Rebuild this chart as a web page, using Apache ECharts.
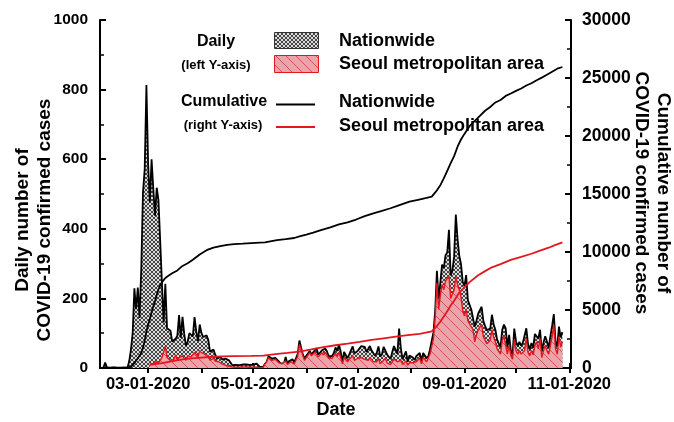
<!DOCTYPE html>
<html>
<head>
<meta charset="utf-8">
<script src="https://cdn.jsdelivr.net/npm/echarts@6/dist/echarts.min.js"></script>
<style>
  html, body { margin: 0; padding: 0; background: #fff; }
  #chart { width: 674px; height: 422px; }
</style>
</head>
<body>
<div id="chart"></div>
<script>
// ---- Axis span (daily categories) ----
const axisStart = '2020-02-02';
const axisEnd = '2020-11-02';
const tickLabelMonths = ['03', '05', '07', '09', '11'];

// ---- Daily confirmed cases, nationwide (from 2020-02-02) ----
const nationDailyStart = '2020-02-02';
const nationFeb = [0, 0, 1, 16, 2, 0, 0, 2, 2, 1, 0, 0, 0, 0, 1, 1, 1, 20, 53, 100, 229, 169, 231, 144, 284, 505, 571, 813];
const nationMar = [586, 476, 600, 516, 438, 518, 483, 367, 248, 131, 242, 114, 110, 107, 76, 74, 84, 93, 152, 87, 147, 98, 64, 76, 100, 104, 91, 146, 105, 78, 125];
const nationApr = [101, 89, 86, 94, 81, 47, 47, 53, 39, 27, 30, 32, 25, 27, 27, 22, 22, 18, 8, 13, 9, 11, 8, 6, 10, 10, 10, 14, 9, 4];
const nationMay = [9, 6, 13, 8, 3, 2, 4, 12, 18, 34, 35, 27, 26, 29, 27, 19, 13, 15, 13, 32, 12, 20, 23, 25, 16, 19, 40, 79, 58, 39, 27];
const nationJun = [35, 38, 49, 39, 39, 51, 57, 38, 38, 50, 45, 56, 48, 34, 37, 34, 43, 59, 49, 67, 48, 17, 46, 51, 28, 39, 51, 62, 42, 43];
const nationJul = [50, 54, 63, 63, 61, 46, 44, 63, 50, 45, 35, 44, 62, 33, 39, 61, 60, 39, 34, 26, 45, 63, 59, 41, 113, 58, 25, 28, 48, 18, 36];
const nationAug = [31, 30, 23, 34, 33, 43, 20, 43, 36, 28, 34, 54, 56, 103, 166, 279, 197, 246, 297, 288, 324, 332, 397, 266, 280, 320, 441, 371, 323, 299, 248];
const nationSep = [235, 267, 195, 198, 168, 167, 119, 136, 156, 155, 176, 136, 121, 109, 106, 113, 153, 126, 110, 82, 70, 61, 110, 125, 114, 61, 95, 50, 38, 113];
const nationOct = [77, 63, 75, 64, 73, 75, 114, 69, 54, 72, 58, 98, 102, 84, 110, 47, 73, 91, 76, 58, 91, 121, 155, 77, 61, 119, 88, 103];

// ---- Daily confirmed cases, Seoul metropolitan area (from 2020-03-02) ----
const seoulDailyStart = '2020-03-02';
const seoulMar = [12, 15, 10, 18, 20, 15, 18, 30, 45, 63, 30, 28, 22, 20, 25, 38, 22, 30, 25, 35, 28, 22, 35, 40, 32, 38, 45, 40, 32, 50];
const seoulApr = [44, 47, 40, 45, 35, 22, 25, 28, 20, 15, 18, 16, 12, 10, 8, 6, 5, 4, 3, 4, 2, 3, 2, 2, 3, 2, 3, 4, 2, 1];
const seoulMay = [2, 1, 2, 2, 1, 1, 2, 12, 18, 30, 32, 22, 20, 25, 22, 15, 10, 12, 10, 20, 10, 15, 18, 20, 12, 15, 33, 68, 52, 35, 22];
const seoulJun = [30, 34, 44, 35, 33, 45, 50, 32, 35, 44, 38, 45, 38, 28, 30, 28, 32, 42, 33, 45, 30, 12, 30, 32, 18, 25, 30, 35, 22, 25];
const seoulJul = [28, 25, 30, 35, 25, 20, 22, 30, 25, 18, 15, 18, 28, 12, 15, 22, 28, 15, 12, 10, 18, 25, 22, 18, 20, 22, 10, 12, 20, 8, 15];
const seoulAug = [12, 15, 10, 18, 20, 28, 12, 30, 25, 18, 22, 40, 42, 85, 146, 245, 168, 210, 240, 225, 250, 245, 265, 200, 205, 225, 262, 240, 225, 205, 165];
const seoulSep = [150, 170, 135, 130, 118, 110, 75, 95, 110, 105, 125, 90, 85, 70, 72, 80, 110, 88, 75, 55, 50, 40, 80, 90, 85, 40, 65, 35, 25, 80];
const seoulOct = [50, 40, 50, 40, 45, 50, 85, 45, 35, 50, 38, 65, 75, 55, 85, 30, 50, 65, 50, 40, 65, 90, 124, 55, 40, 90, 60, 75];

// ---- Cumulative confirmed cases (right axis) ----
const nationCumDates = ['2020-02-02', '2020-02-09', '2020-02-16', '2020-02-18', '2020-02-19', '2020-02-20', '2020-02-21', '2020-02-22', '2020-02-23', '2020-02-24', '2020-02-25', '2020-02-26', '2020-02-27', '2020-02-28', '2020-02-29',
  '2020-03-01', '2020-03-02', '2020-03-03', '2020-03-04', '2020-03-05', '2020-03-06', '2020-03-07', '2020-03-08', '2020-03-09', '2020-03-10', '2020-03-11', '2020-03-13', '2020-03-15', '2020-03-18', '2020-03-21', '2020-03-24', '2020-03-27', '2020-03-31',
  '2020-04-04', '2020-04-08', '2020-04-12', '2020-04-16', '2020-04-20', '2020-04-25', '2020-04-30', '2020-05-05', '2020-05-08', '2020-05-11', '2020-05-15', '2020-05-20', '2020-05-25', '2020-05-28',
  '2020-06-01', '2020-06-05', '2020-06-10', '2020-06-15', '2020-06-20', '2020-06-25', '2020-06-30', '2020-07-05', '2020-07-10', '2020-07-15', '2020-07-20', '2020-07-24', '2020-07-25', '2020-07-31',
  '2020-08-05', '2020-08-10', '2020-08-13', '2020-08-14', '2020-08-16', '2020-08-18', '2020-08-20', '2020-08-22', '2020-08-24', '2020-08-26', '2020-08-28', '2020-08-30',
  '2020-09-01', '2020-09-04', '2020-09-07', '2020-09-10', '2020-09-13', '2020-09-16', '2020-09-19', '2020-09-22', '2020-09-25', '2020-09-28',
  '2020-10-01', '2020-10-04', '2020-10-07', '2020-10-10', '2020-10-13', '2020-10-16', '2020-10-19', '2020-10-22', '2020-10-25', '2020-10-28'];
const nationCum = [15, 25, 29, 31, 51, 104, 204, 433, 602, 833, 977, 1261, 1766, 2337, 3150,
  3736, 4212, 4812, 5328, 5766, 6284, 6767, 7134, 7382, 7513, 7755, 7979, 8162, 8413, 8799, 9037, 9332, 9786,
  10156, 10384, 10512, 10613, 10674, 10718, 10765, 10804, 10822, 10909, 11018, 11110, 11206, 11344,
  11503, 11668, 11902, 12121, 12373, 12563, 12800, 13091, 13338, 13551, 13771, 13979, 14092, 14336,
  14499, 14660, 14770, 14873, 15318, 15761, 16346, 17002, 17665, 18265, 19077, 19699,
  20182, 20842, 21296, 21743, 22176, 22504, 22893, 23106, 23455, 23661,
  23889, 24091, 24353, 24548, 24805, 25035, 25275, 25543, 25800, 25950];

const seoulCumDates = ['2020-03-02', '2020-03-09', '2020-03-16', '2020-03-23', '2020-03-30', '2020-04-06', '2020-04-13', '2020-04-20', '2020-04-30',
  '2020-05-07', '2020-05-14', '2020-05-21', '2020-05-28', '2020-06-04', '2020-06-11', '2020-06-18', '2020-06-25', '2020-07-02', '2020-07-09', '2020-07-16', '2020-07-23', '2020-07-30',
  '2020-08-06', '2020-08-13', '2020-08-14', '2020-08-16', '2020-08-18', '2020-08-20', '2020-08-22', '2020-08-24', '2020-08-26', '2020-08-29',
  '2020-09-01', '2020-09-04', '2020-09-09', '2020-09-13', '2020-09-17', '2020-09-22', '2020-09-28', '2020-10-04', '2020-10-10', '2020-10-15', '2020-10-20', '2020-10-24', '2020-10-28'];
const seoulCum = [280, 420, 620, 780, 880, 950, 1000, 1020, 1040,
  1060, 1200, 1300, 1420, 1600, 1800, 1960, 2100, 2250, 2420, 2560, 2700, 2830,
  2950, 3150, 3230, 3620, 4000, 4450, 4900, 5380, 5800, 6500,
  6950, 7400, 8000, 8350, 8680, 8950, 9320, 9580, 9850, 10120, 10370, 10620, 10830];

// ---- Helpers ----
function dayList(from, to) {
  const out = [];
  let t = Date.parse(from + 'T00:00:00Z');
  const end = Date.parse(to + 'T00:00:00Z');
  while (t <= end) { out.push(new Date(t).toISOString().slice(0, 10)); t += 86400000; }
  return out;
}
const categories = dayList(axisStart, axisEnd);

function pairs(startDate, values) {
  const i0 = categories.indexOf(startDate);
  return values.map((v, i) => [categories[i0 + i], v]);
}
function zip(dates, values) { return dates.map((d, i) => [d, values[i]]); }

const nationDaily = [].concat(nationFeb, nationMar, nationApr, nationMay, nationJun, nationJul, nationAug, nationSep, nationOct);
const seoulDaily = [].concat(seoulMar, seoulApr, seoulMay, seoulJun, seoulJul, seoulAug, seoulSep, seoulOct);

// Fill patterns: fine grey cross-hatch and pink fill with "\" hatch lines
function crossHatch() {
  const c = document.createElement('canvas');
  c.width = 4; c.height = 4;
  const g = c.getContext('2d');
  g.fillStyle = '#dcdcdc'; g.fillRect(0, 0, 4, 4);
  g.fillStyle = '#454545';
  for (let i = 0; i < 4; i++) { g.fillRect(i, i, 1, 1); g.fillRect(3 - i, i, 1, 1); }
  return c;
}
function pinkHatch() {
  const n = 10;
  const c = document.createElement('canvas');
  c.width = n; c.height = n;
  const g = c.getContext('2d');
  g.fillStyle = '#eba5aa'; g.fillRect(0, 0, n, n);
  g.strokeStyle = '#d5474f'; g.lineWidth = 0.9;
  g.beginPath(); g.moveTo(-1, -1); g.lineTo(n + 1, n + 1); g.stroke();
  return c;
}
const greyPattern = { image: crossHatch(), repeat: 'repeat' };
const pinkPattern = { image: pinkHatch(), repeat: 'repeat' };

const FONT = '"Liberation Sans", Arial, sans-serif';
const RED = '#e3161e';

function txt(x, y, text, size, align, extra) {
  return Object.assign({
    type: 'text', x: x, y: y, silent: true,
    style: { text: text, fill: '#000', font: 'bold ' + size + 'px ' + FONT,
      textAlign: align, align: align, textVerticalAlign: 'middle', verticalAlign: 'middle',
      lineHeight: 22 }
  }, extra || {});
}

const isMonthStart = (idx, val) => val.slice(8) === '01';
const axisLineStyle = { show: true, lineStyle: { color: '#000', width: 2 } };
const plainNumber = v => String(v);

const chart = echarts.init(document.getElementById('chart'), null, { renderer: 'canvas' });
chart.setOption({
  animation: false,
  backgroundColor: '#fff',
  grid: { left: 100, right: 103, top: 20, bottom: 54, containLabel: false },
  xAxis: [{
    type: 'category', data: categories, boundaryGap: false, position: 'bottom',
    axisLine: axisLineStyle,
    axisTick: { show: true, inside: true, length: 5, interval: isMonthStart, lineStyle: { color: '#000', width: 2 } },
    axisLabel: {
      interval: (idx, val) => val.slice(8) === '01' && tickLabelMonths.includes(val.slice(5, 7)),
      formatter: v => v.slice(5, 7) + '-' + v.slice(8, 10) + '-' + v.slice(0, 4),
      color: '#000', fontFamily: FONT, fontWeight: 'bold', fontSize: 16.5, margin: 8
    },
    splitLine: { show: false }
  }, {
    type: 'category', data: categories, boundaryGap: false, position: 'top',
    axisLine: axisLineStyle,
    axisTick: { show: true, inside: true, length: 5, interval: isMonthStart, lineStyle: { color: '#000', width: 2 } },
    axisLabel: { show: false },
    splitLine: { show: false }
  }],
  yAxis: [{
    type: 'value', min: 0, max: 1000, interval: 200, position: 'left',
    axisLine: axisLineStyle,
    axisTick: { show: true, inside: true, length: 6, lineStyle: { color: '#000', width: 2 } },
    minorTick: { show: true, splitNumber: 2, length: 4, lineStyle: { color: '#000', width: 1.5 } },
    axisLabel: { color: '#000', fontFamily: FONT, fontWeight: 'bold', fontSize: 15.5, margin: 12, formatter: plainNumber },
    splitLine: { show: false }
  }, {
    type: 'value', min: 0, max: 30000, interval: 5000, position: 'right',
    axisLine: axisLineStyle,
    axisTick: { show: true, inside: true, length: 6, lineStyle: { color: '#000', width: 2 } },
    minorTick: { show: true, splitNumber: 2, length: 4, lineStyle: { color: '#000', width: 1.5 } },
    axisLabel: { color: '#000', fontFamily: FONT, fontWeight: 'bold', fontSize: 17.5, margin: 11, formatter: plainNumber },
    splitLine: { show: false }
  }],
  series: [{
    name: 'Daily nationwide', type: 'line', xAxisIndex: 0, yAxisIndex: 0,
    data: pairs(nationDailyStart, nationDaily), symbol: 'none',
    lineStyle: { color: '#000', width: 1.8 },
    areaStyle: { color: greyPattern, opacity: 1 }, z: 2
  }, {
    name: 'Daily Seoul metropolitan area', type: 'line', xAxisIndex: 0, yAxisIndex: 0,
    data: pairs(seoulDailyStart, seoulDaily), symbol: 'none',
    lineStyle: { color: RED, width: 1.4 },
    areaStyle: { color: pinkPattern, opacity: 1 }, z: 3
  }, {
    name: 'Cumulative nationwide', type: 'line', xAxisIndex: 0, yAxisIndex: 1,
    data: zip(nationCumDates, nationCum), symbol: 'none',
    lineStyle: { color: '#000', width: 1.8 }, z: 4
  }, {
    name: 'Cumulative Seoul metropolitan area', type: 'line', xAxisIndex: 0, yAxisIndex: 1,
    data: zip(seoulCumDates, seoulCum), symbol: 'none',
    lineStyle: { color: RED, width: 1.8 }, z: 5
  }],
  graphic: [
    // legend block
    txt(216, 42, 'Daily', 16, 'center'),
    txt(216, 65, '(left Y-axis)', 13, 'center'),
    { type: 'rect', shape: { x: 274.5, y: 32.5, width: 44, height: 16 },
      style: { fill: greyPattern, stroke: '#333', lineWidth: 1 }, silent: true },
    { type: 'rect', shape: { x: 274.5, y: 55.5, width: 44, height: 17 },
      style: { fill: pinkPattern, stroke: RED, lineWidth: 1 }, silent: true },
    txt(339, 41, 'Nationwide', 18, 'left'),
    txt(339, 64, 'Seoul metropolitan area', 18, 'left'),
    txt(224, 102, 'Cumulative', 16, 'center'),
    txt(223, 125, '(right Y-axis)', 13, 'center'),
    { type: 'line', shape: { x1: 276, y1: 104.5, x2: 315, y2: 104.5 },
      style: { stroke: '#000', lineWidth: 1.8 }, silent: true },
    { type: 'line', shape: { x1: 276, y1: 127, x2: 315, y2: 127 },
      style: { stroke: RED, lineWidth: 1.8 }, silent: true },
    txt(339, 102, 'Nationwide', 18, 'left'),
    txt(339, 126, 'Seoul metropolitan area', 18, 'left'),
    // axis titles
    txt(33.5, 220, 'Daily number of\nCOVID-19 confirmed cases', 19, 'center',
      { rotation: Math.PI / 2 }),
    txt(652.5, 193, 'Cumulative number of\nCOVID-19 confirmed cases', 19, 'center',
      { rotation: -Math.PI / 2 }),
    txt(336, 410, 'Date', 18, 'center')
  ]
});
</script>
</body>
</html>
